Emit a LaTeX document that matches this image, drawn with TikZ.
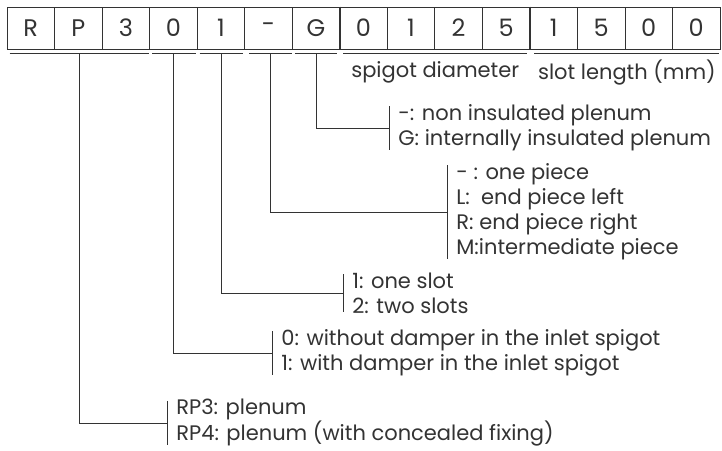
\documentclass[tikz,border=0pt]{standalone}
\usepackage{fontspec}
\setmainfont{Poppins}
\tikzset{
  digit/.style={draw, minimum width=47.53pt, minimum height=42pt, inner sep=0pt, font=\fontsize{24}{24}\selectfont},
  legend/.style={align=left, anchor=west, inner xsep=9pt, inner ysep=-2pt, font=\fontsize{21}{25}\selectfont},
  note/.style={inner sep=0pt, font=\fontsize{21}{24}\selectfont},
}
\begin{document}
\begin{tikzpicture}[x=1pt, y=-1pt, line width=0.8pt, color=black!80]
    \useasboundingbox (0,0) rectangle (722,450);
    % code boxes
    \foreach \ch [count=\i] in {R,P,3,0,1,-,G,0,1,2,5,1,5,0,0}
        \node[digit] (c\i) at ({7+47.53*(\i-0.5)},28) {\ch};
    \draw[line width=2.4pt] (c7.north east) -- (c7.south east);
    \draw[line width=2.4pt] (c11.north east) -- (c11.south east);
    % underlines
    \draw ([xshift=3pt,yshift=-4pt]c1.south west) -- ([xshift=-1pt,yshift=-4pt]c3.south east) coordinate[midway] (uRP);
    \draw ([xshift=3pt,yshift=-4pt]c4.south west) -- ([xshift=-2pt,yshift=-4pt]c4.south east) coordinate[midway] (uD);
    \draw ([xshift=3pt,yshift=-4pt]c5.south west) -- ([xshift=-2pt,yshift=-4pt]c5.south east) coordinate[midway] (uS);
    \draw ([xshift=5pt,yshift=-4pt]c6.south west) -- ([xshift=-1pt,yshift=-4pt]c6.south east) coordinate[midway] (uP);
    \draw ([xshift=3pt,yshift=-4pt]c7.south west) -- ([xshift=-3pt,yshift=-4pt]c7.south east) coordinate[midway] (uG);
    \draw ([xshift=4pt,yshift=-4pt]c8.south west) -- ([xshift=-3pt,yshift=-4pt]c11.south east) coordinate[midway] (uSp);
    \draw ([xshift=5pt,yshift=-4pt]c12.south west) -- ([xshift=-1pt,yshift=-4pt]c15.south east) coordinate[midway] (uSl);
    \node[note] (sp) at ([yshift=-19pt]uSp) {spigot diameter};
    \node[note] (sl) at ([yshift=-19pt]uSl) {slot length (mm)};
    % legends
    \node[legend] (lG) at (389,128) {-: non insulated plenum\\G: internally insulated plenum};
    \node[legend] (lP) at (447,212) {- : one piece\\L:\ \ end piece left\\R: end piece right\\M:intermediate piece};
    \node[legend] (lS) at (343,293) {1: one slot\\2: two slots};
    \node[legend] (lD) at (272,353) {0: without damper in the inlet spigot\\1: with damper in the inlet spigot};
    \node[legend] (lRP) at (167,423) {RP3: plenum\\RP4: plenum (with concealed fixing)};
    \foreach \l in {lG,lP,lS,lD,lRP}
        \draw (\l.north west) -- (\l.south west);
    % connectors
    \draw (uG) |- (lG.west);
    \draw (uP) |- (lP.west);
    \draw (uS) |- (lS.west);
    \draw (uD) |- (lD.west);
    \draw (uRP) |- (lRP.west);
\end{tikzpicture}
\end{document}
